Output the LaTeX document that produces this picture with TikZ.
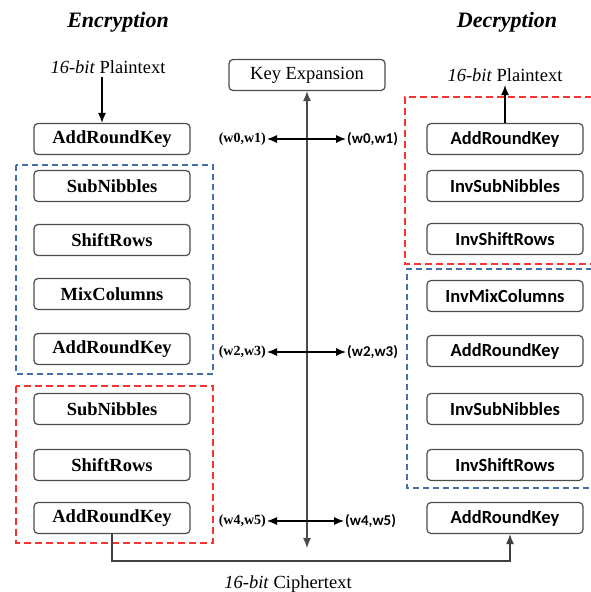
\documentclass[tikz,border=0pt]{standalone}
\usepackage{fontspec}
\setmainfont{Liberation Serif}
\newfontfamily\carlito{Carlito}
\usetikzlibrary{positioning,arrows.meta}
\definecolor{frmblue}{RGB}{70,110,170}
\definecolor{frmred}{RGB}{250,50,50}

\begin{document}
\begin{tikzpicture}[x=1pt,y=-1pt,on grid,
    encbox/.style={draw=black!70,rounded corners=4pt,line width=1.2pt,minimum width=156pt,minimum height=31pt,font=\fontsize{18.5}{20}\selectfont\bfseries},
    decbox/.style={encbox,font=\fontsize{18.5}{20}\selectfont\carlito\bfseries},
    wkeyl/.style={anchor=east,inner sep=1pt,font=\fontsize{14}{15}\selectfont\bfseries},
    wkeyr/.style={anchor=west,inner sep=1pt,font=\fontsize{15}{15}\selectfont\carlito\bfseries},
    redfrm/.style={draw=frmred,dash pattern=on 7pt off 4pt,line width=1.3pt},
    bluefrm/.style={draw=frmblue,dash pattern=on 6pt off 4pt,line width=1.3pt},
    >={Latex[length=10pt,width=8pt]}]
  \useasboundingbox (0,0) rectangle (590,592);

  \node[font=\fontsize{22}{24}\selectfont\bfseries\itshape] (enc) at (118,22) {Encryption};
  \node[font=\fontsize{22}{24}\selectfont\bfseries\itshape] (dec) at (507,22) {Decryption};
  \node[font=\fontsize{18.5}{20}\selectfont] (ptin) at (108,67) {\textit{16-bit} Plaintext};
  \node[font=\fontsize{18.5}{20}\selectfont] (ptout) at (505,75) {\textit{16-bit} Plaintext};
  \node[font=\fontsize{18.5}{20}\selectfont] (ctxt) at (288,584) {\textit{16-bit} Ciphertext};
  \node[draw=black!70,rounded corners=4pt,line width=1.2pt,minimum width=156pt,minimum height=31pt,font=\fontsize{18.5}{20}\selectfont] (keyexp) at (307,75) {Key Expansion};

  \node[encbox] (e_ark0) at (112,139) {AddRoundKey};
  \node[encbox] (e_sub1) [below=47pt of e_ark0] {SubNibbles};
  \node[encbox] (e_shr1) [below=54pt of e_sub1] {ShiftRows};
  \node[encbox] (e_mix1) [below=54pt of e_shr1] {MixColumns};
  \node[encbox] (e_ark1) [below=55pt of e_mix1] {AddRoundKey};
  \node[encbox] (e_sub2) [below=60pt of e_ark1] {SubNibbles};
  \node[encbox] (e_shr2) [below=56pt of e_sub2] {ShiftRows};
  \node[encbox] (e_ark2) [below=53pt of e_shr2] {AddRoundKey};

  \node[decbox] (d_ark0) at (505,139) {AddRoundKey};
  \node[decbox] (d_isub1) [below=47pt of d_ark0] {InvSubNibbles};
  \node[decbox] (d_ishr1) [below=53pt of d_isub1] {InvShiftRows};
  \node[decbox] (d_imix1) [below=57pt of d_ishr1] {InvMixColumns};
  \node[decbox] (d_ark1) [below=55pt of d_imix1] {AddRoundKey};
  \node[decbox] (d_isub2) [below=58pt of d_ark1] {InvSubNibbles};
  \node[decbox] (d_ishr2) [below=56pt of d_isub2] {InvShiftRows};
  \node[decbox] (d_ark2) [below=53pt of d_ishr2] {AddRoundKey};

  \draw[bluefrm] (16,165) rectangle (213,374);
  \draw[redfrm] (16,386) rectangle (213,543);
  \draw[redfrm] (592,97) -- (405,97) -- (405,264) -- (592,264);
  \draw[bluefrm] (592,269) -- (407,269) -- (407,488) -- (592,488);

  \node[wkeyl] (wl0) at (267,139) {(w0,w1)};
  \node[wkeyr] (wr0) at (346,139) {(w0,w1)};
  \node[wkeyl] (wl1) at (267,352) {(w2,w3)};
  \node[wkeyr] (wr1) at (346,352) {(w2,w3)};
  \node[wkeyl] (wl2) at (267,521) {(w4,w5)};
  \node[wkeyr] (wr2) at (344,521) {(w4,w5)};

  \coordinate (kbot) at (307,548);
  \coordinate (cbase) at (111,561);
  \draw[<->,draw=black!70,line width=1.2pt] (keyexp.south) -- (kbot);
  \path[<->,draw=black,line width=1.1pt]
    (wl0) edge (wr0)
    (wl1) edge (wr1)
    (wl2) edge (wr2);
  \draw[->,line width=1.3pt] ([xshift=-6pt]ptin.south) -- ([xshift=-6pt]ptin.south |- e_ark0.north);
  \draw[->,line width=1.3pt] (d_ark0.north) -- (ptout.south);
  \draw[->,draw=black!75,line width=1.2pt] (e_ark2.south) -- (e_ark2.south |- cbase) -| ([xshift=5pt]d_ark2.south);
\end{tikzpicture}
\end{document}
